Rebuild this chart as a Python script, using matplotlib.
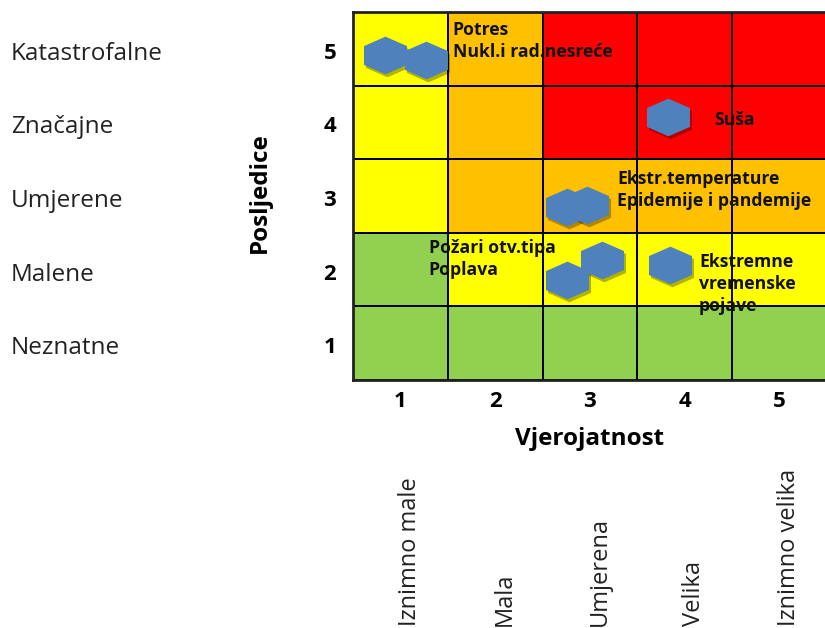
import numpy as np
import matplotlib
matplotlib.use("Agg")
import matplotlib.pyplot as plt
from matplotlib.colors import ListedColormap
from matplotlib import transforms

plt.rcParams['font.family'] = ['Open Sans', 'DejaVu Sans']

# data
levels = [1, 2, 3, 4, 5]
posljedice = ["Neznatne", "Malene", "Umjerene", "Značajne", "Katastrofalne"]
vjerojatnost = ["Iznimno male", "Mala", "Umjerena", "Velika", "Iznimno velika"]

# risk class per cell, rows = consequence 1..5, cols = probability 1..5
# 0 green, 1 yellow, 2 orange, 3 red
risk = np.array([
    [0, 0, 0, 0, 0],
    [0, 1, 1, 1, 1],
    [1, 2, 2, 2, 2],
    [1, 2, 3, 3, 3],
    [1, 2, 3, 3, 3],
])
risk_colors = ["#92D050", "#FFFF00", "#FFC000", "#FF0000"]

# hazard markers (probability, consequence) as placed in the picture
haz_x = [0.84, 1.27, 3.82, 2.76, 2.97, 2.76, 3.13, 3.84]
haz_y = [4.92, 4.85, 4.07, 2.85, 2.88, 1.86, 2.13, 2.06]

labels = [
    (1.55, 5.38, "Potres\nNukl.i rad.nesreće"),
    (4.31, 4.16, "Suša"),
    (3.29, 3.35, "Ekstr.temperature\nEpidemije i pandemije"),
    (1.30, 2.42, "Požari otv.tipa\nPoplava"),
    (4.15, 2.23, "Ekstremne\nvremenske\npojave"),
]

fig = plt.figure(figsize=(8.25, 6.28), dpi=100)
ax = fig.add_axes([353 / 825, 1 - 380 / 628, 474 / 825, 368 / 628])

edges = np.arange(0.5, 6, 1)
ax.pcolormesh(edges, edges, risk, cmap=ListedColormap(risk_colors),
              vmin=-0.5, vmax=3.5, edgecolors="black", linewidth=1.3)
ax.set_xlim(0.5, 5.5)
ax.set_ylim(0.5, 5.5)
for s in ax.spines.values():
    s.set_linewidth(2)
    s.set_color("#222222")

# hexagon marker, slightly wider than tall
ang = np.deg2rad(np.arange(90, 450, 60))
hexv = np.column_stack([np.cos(ang) * 1.32, np.sin(ang)])
shadow = transforms.offset_copy(ax.transData, fig=fig, x=2, y=-3, units="dots")
ax.scatter(haz_x, haz_y, marker=hexv, s=31 ** 2, color="black", alpha=0.3,
           linewidths=0, transform=shadow, zorder=3)
ax.scatter(haz_x, haz_y, marker=hexv, s=31 ** 2, color="#4F81BD",
           linewidths=0, zorder=4)

for x, y, t in labels:
    ax.text(x, y, t, fontsize=12.7, fontweight="bold", ha="left", va="top",
            linespacing=1.3, color="#111111", zorder=5)

ax.set_xticks(levels)
ax.set_xticklabels([str(v) for v in levels], fontsize=16, fontweight="bold")
ax.set_yticks(levels)
ax.set_yticklabels([str(v) for v in levels], fontsize=16, fontweight="bold",
                   va="baseline")
ax.tick_params(length=0, pad=8)
ax.tick_params(axis="y", pad=12)
# drop the number baselines a little below the row centre, as in the picture
for lab in ax.get_yticklabels():
    lab.set_transform(lab.get_transform() +
                      transforms.Affine2D().translate(0, -10))

ax.set_xlabel("Vjerojatnost", fontsize=17.5, fontweight="bold", labelpad=11)
ax.set_ylabel("Posljedice", fontsize=17.5, fontweight="bold")
ax.yaxis.set_label_coords((272 - 353) / 474, (380 - 193) / 368)

ytr = transforms.offset_copy(ax.get_yaxis_transform(), fig=fig, y=-11,
                             units="dots")
for v, name in zip(levels, posljedice):
    ax.text((11 - 353) / 474, v, name, transform=ytr, fontsize=17.5,
            ha="left", va="baseline", color="#222222")

xtr = transforms.blended_transform_factory(ax.transData, fig.transFigure)
for v, name in zip(levels, vjerojatnost):
    ax.text(v + 0.1, 2 / 628, name, transform=xtr, fontsize=17, rotation=90,
            ha="center", va="bottom", color="#222222")

fig.savefig("out.png", dpi=100)
